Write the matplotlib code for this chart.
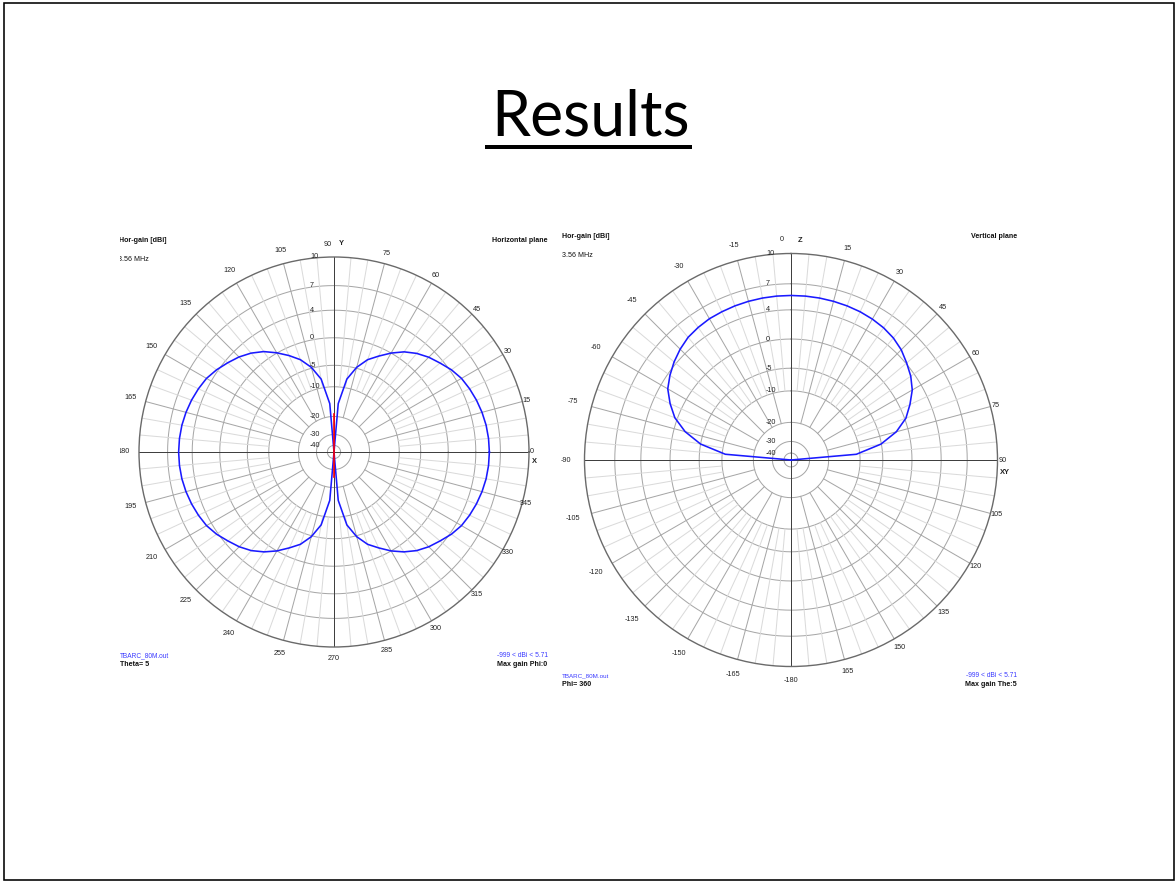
import numpy as np
import matplotlib
matplotlib.use("Agg")
import matplotlib.pyplot as plt
from matplotlib.transforms import offset_copy, Bbox
from matplotlib.patches import Rectangle
from matplotlib.lines import Line2D

# ---------------- data ----------------
title = "Results"

ring_db = [10, 7, 4, 0, -5, -10, -20, -30, -40]
ring_labels = ["10", "7", "4", "0", "-5", "-10", "-20", "-30", "-40"]

# Horizontal plane (Theta = 5), gain in dBi vs phi (deg)
h_phi = list(range(0, 361, 5))
h_gain = [5.71, 5.68, 5.60, 5.45, 5.25, 5.00, 4.70, 4.20, 3.55, 2.95, 2.20, 1.25, 0.00,
          -1.40, -2.75, -4.80, -7.80, -15.0, -999,
          -15.0, -7.80, -4.80, -2.75, -1.30, 0.05, 1.30, 2.25, 3.00, 3.60, 4.20, 4.70,
          5.00, 5.25, 5.45, 5.60, 5.68, 5.71,
          5.68, 5.60, 5.45, 5.25, 5.00, 4.70, 4.20, 3.55, 2.95, 2.20, 1.20, 0.00,
          -1.40, -2.75, -4.80, -7.80, -15.0, -999,
          -15.0, -7.80, -4.80, -2.75, -1.40, 0.00, 1.20, 2.20, 2.95, 3.55, 4.20, 4.70,
          5.00, 5.25, 5.45, 5.60, 5.68, 5.71]

# second (red) trace in the horizontal plane
red_phi = [90, 90, 270, 270]
red_gain = [-19.0, -999, -999, -25.0]

# Vertical plane (Phi = 360), gain in dBi vs theta (deg)
v_theta = list(range(-90, 91, 5))
v_gain = [-999, -10.8, -5.0, -1.8, 0.4, 1.8, 3.0, 3.7, 4.3, 4.8, 5.2, 5.4, 5.55, 5.6,
          5.65, 5.68, 5.70, 5.71, 5.71, 5.71, 5.70, 5.68, 5.65, 5.6, 5.5, 5.35, 5.1,
          4.7, 4.1, 3.5, 2.7, 1.5, 0.2, -1.9, -5.1, -10.9, -999]

h_tick_angles = list(range(0, 360, 15))
h_tick_labels = [str(a) for a in h_tick_angles]
v_tick_angles = list(range(-180, 180, 15))
v_tick_labels = [str(a) for a in v_tick_angles]

file_name = "TBARC_80M.out"
freq_text = "3.56 MHz"
range_text = "-999 < dBi < 5.71"

# ---------------- styling ----------------
W, H, DPI = 1175, 882, 100
K = 0.05
RMIN = 10 + np.log(0.05) / K   # dB value at the centre


def fwd(x):
    return np.exp(K * (np.asarray(x, dtype=float) - 10))


def inv(y):
    y = np.asarray(y, dtype=float)
    with np.errstate(divide="ignore", invalid="ignore"):
        return 10 + np.log(y) / K


FONT = ["Liberation Sans", "DejaVu Sans"]
plt.rcParams["font.family"] = FONT
GRID_C = "#a6a6a6"
MINOR_C = "#dadada"
AXIS_C = "#404040"
OUTER_C = "#6a6a6a"
BLUE_TXT = "#3a3aff"
LW = 0.72  # one pixel

fig = plt.figure(figsize=(W / DPI, H / DPI), dpi=DPI)
fig.patch.set_facecolor("white")


def fx(x):
    return x / W


def fy(y):
    return 1 - y / H


def make_polar(cx, cy, R, zero, direction):
    ax = fig.add_axes([fx(cx - R), fy(cy + R), 2 * R / W, 2 * R / H], projection="polar")
    ax.set_theta_zero_location(zero)
    ax.set_theta_direction(direction)
    ax.set_rscale("function", functions=(fwd, inv))
    ax.set_rlim(RMIN, 10)
    ax.set_xticks([])
    ax.set_yticks([])
    ax.grid(False)
    ax.spines["polar"].set_color(OUTER_C)
    ax.spines["polar"].set_linewidth(1.0)
    ax.set_facecolor("white")
    tt = np.linspace(0, 2 * np.pi, 721)
    for db in ring_db[1:]:
        ax.plot(tt, np.full_like(tt, db), color=GRID_C, lw=LW, zorder=1)
    for a in range(0, 360, 5):
        if a % 90 == 0:
            continue
        r0 = -20 if a % 15 == 0 else -10
        col = GRID_C if a % 15 == 0 else MINOR_C
        ax.plot([np.deg2rad(a)] * 2, [r0, 10], color=col, lw=LW, zorder=1)
    for a in (0, 90, 180, 270):
        ax.plot([np.deg2rad(a)] * 2, [RMIN, 10], color=AXIS_C, lw=LW, zorder=2)
    return ax


def px_off(ax, dx, dy):
    return offset_copy(ax.transData, fig=fig, x=dx, y=dy, units="dots")


clip_left = Bbox([[120.3, 0], [W, H]])

# ---------------- left: horizontal plane ----------------
axL = make_polar(334, 452, 195, "E", 1)
axL.plot(np.deg2rad(h_phi), np.maximum(h_gain, RMIN), color="#1a1aff", lw=1.15, zorder=4)
axL.plot(np.deg2rad(red_phi), np.maximum(red_gain, RMIN), color="#ff0000", lw=1.2, zorder=5)

for a, lab in zip(h_tick_angles, h_tick_labels):
    phi = np.deg2rad(a)
    d = 9 - 6 * np.cos(phi) + 3 * abs(np.sin(phi))
    dx, dy = d * np.cos(phi), d * np.sin(phi)
    if a == 90:
        dx -= 6
    t = axL.text(phi, 10, lab, transform=px_off(axL, dx, dy), ha="center", va="center",
                 fontsize=5.2, color="#222222", clip_on=False)
    t.set_clip_box(clip_left)
    t.set_clip_on(True)
axL.text(np.pi / 2, 10, "Y", transform=px_off(axL, 7, 13), ha="center", va="center",
         fontsize=5.4, fontweight="bold", color="#222222", clip_on=False)
axL.text(0, 10, "X", transform=px_off(axL, 5, -10), ha="center", va="center",
         fontsize=5.4, fontweight="bold", color="#222222", clip_on=False)
for db, lab in zip(ring_db, ring_labels):
    axL.text(np.pi / 2, db, lab, transform=px_off(axL, -24, 0), ha="left", va="center",
             fontsize=5.2, color="#222222", clip_on=False, zorder=6)

# ---------------- right: vertical plane ----------------
axR = make_polar(791, 460, 206.5, "N", -1)
axR.plot(np.deg2rad(v_theta), np.maximum(v_gain, RMIN), color="#1a1aff", lw=1.15, zorder=4)

for a, lab in zip(v_tick_angles, v_tick_labels):
    phi = np.deg2rad(90 - a)  # screen angle
    d = 12 - 7 * np.cos(phi) + 2 * abs(np.sin(phi))
    dx, dy = d * np.cos(phi), d * np.sin(phi)
    if a == 0:
        dx -= 9
    axR.text(np.deg2rad(a), 10, lab, transform=px_off(axR, dx, dy), ha="center",
             va="center", fontsize=5.2, color="#222222", clip_on=False)
axR.text(0, 10, "Z", transform=px_off(axR, 9, 13.5), ha="center", va="center",
         fontsize=5.4, fontweight="bold", color="#222222", clip_on=False)
axR.text(np.pi / 2, 10, "XY", transform=px_off(axR, 7.5, -12), ha="center", va="center",
         fontsize=5.4, fontweight="bold", color="#222222", clip_on=False)
for db, lab in zip(ring_db, ring_labels):
    axR.text(0, db, lab, transform=px_off(axR, -25, 0), ha="left", va="center",
             fontsize=5.2, color="#222222", clip_on=False, zorder=6)

# ---------------- panel captions ----------------
def ftext(x, y, s, ha="left", bold=False, color="#111111", size=5.1, clip=False):
    t = fig.text(fx(x), fy(y), s, ha=ha, va="center", fontsize=size,
                 fontweight="bold" if bold else "normal", color=color)
    if clip:
        t.set_clip_box(clip_left)
        t.set_clip_on(True)
    return t

ftext(118.8, 240.7, "Hor-gain [dBi]", bold=True, clip=True)
ftext(118.3, 259, freq_text, clip=True)
ftext(547, 240.7, "Horizontal plane", ha="right", bold=True)
ftext(119.5, 655.7, file_name, color=BLUE_TXT, size=4.7, clip=True)
ftext(119.5, 665, "Theta= 5", bold=True, clip=True)
ftext(547.7, 655.7, range_text, ha="right", color=BLUE_TXT, size=4.8)
ftext(547.7, 665, "Max gain Phi:0", ha="right", bold=True)

ftext(561.7, 236.7, "Hor-gain [dBi]", bold=True)
ftext(561.7, 255.7, freq_text)
ftext(1017.3, 236.7, "Vertical plane", ha="right", bold=True)
ftext(562.3, 675.7, file_name, color=BLUE_TXT, size=4.5)
ftext(562.3, 685, "Phi= 360", bold=True)
ftext(1017, 675.7, range_text, ha="right", color=BLUE_TXT, size=4.8)
ftext(1017, 685, "Max gain The:5", ha="right", bold=True)

# ---------------- slide title & frame ----------------
fig.text(fx(590.5), fy(135.7), title, ha="center", va="baseline", fontsize=45,
         family=["Lato", "DejaVu Sans"], color="black")
fig.add_artist(Line2D([fx(485), fx(692)], [fy(147.3), fy(147.3)], color="black",
                      lw=4 * LW, solid_capstyle="butt"))
fig.add_artist(Rectangle((fx(4), fy(880)), fx(1173.5) - fx(4), fy(3) - fy(880),
                         fill=False, ec="black", lw=1.6 * LW))

fig.savefig("out.png", dpi=DPI, facecolor="white")
